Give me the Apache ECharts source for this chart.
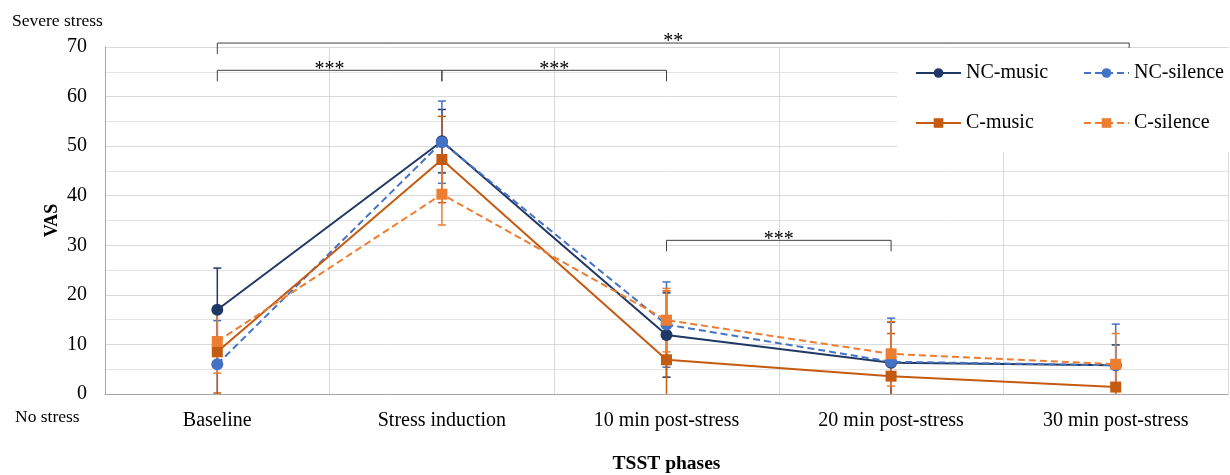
<!DOCTYPE html>
<html><head><meta charset="utf-8">
<script src="https://cdn.jsdelivr.net/npm/echarts@6/dist/echarts.min.js"></script>
<style>html,body{margin:0;padding:0;background:#fff}#c{width:1230px;height:475px}</style>
</head><body><div id="c"></div>
<script>
// ---- data ----
const categories = ['Baseline', 'Stress induction', '10 min post-stress', '20 min post-stress', '30 min post-stress'];
const seriesNames = ['NC-music', 'NC-silence', 'C-music', 'C-silence'];
const ncMusic = [17, 51, 11.9, 6.3, 5.8];
const ncMusicErr = [8.4, 6.4, 8.5, 8.2, 4.1];
const ncSilence = [6, 50.8, 14, 6.5, 5.8];
const ncSilenceErr = [8.8, 8.3, 8.6, 8.8, 8.3];
const cMusic = [8.5, 47.3, 6.9, 3.6, 1.4];
const cMusicErr = [8.3, 8.7, 13.9, 8.6, 4];
const cSilence = [10.6, 40.3, 14.9, 8.1, 6];
const cSilenceErr = [6.4, 6.2, 6.4, 6.5, 6.2];
const yMin = 0, yMax = 70, yStep = 10;
// significance brackets (category positions, value level)
const bracketFrom = [0, 0, 1, 2];
const bracketTo = [4.06, 1, 2, 3];
const bracketLevel = [70.8, 65.3, 65.3, 31.0];
const bracketLabel = ['**', '***', '***', '***'];

const FONT = "'Liberation Serif', 'Times New Roman', serif";
const colors = ['#203864', '#4472C4', '#C55A11', '#ED7D31'];
const means = [ncMusic, ncSilence, cMusic, cSilence];
const errs = [ncMusicErr, ncSilenceErr, cMusicErr, cSilenceErr];
const symbols = ['circle', 'circle', 'rect', 'rect'];
const symbolSizes = [12, 12, 11, 11];
const dashed = [false, true, false, true];

const chart = echarts.init(document.getElementById('c'), null, {renderer: 'canvas'});

const series = [];
seriesNames.forEach((name, i) => {
  series.push({
    type: 'line',
    name: name,
    z: 5 + i,
    data: means[i],
    symbol: symbols[i],
    symbolSize: symbolSizes[i],
    showAllSymbol: true,
    itemStyle: {color: colors[i]},
    lineStyle: {color: colors[i], width: 2, type: dashed[i] ? [7, 4] : 'solid'},
    emphasis: {disabled: true},
    animation: false
  });
  // error bars
  series.push({
    type: 'custom',
    name: name + ' (SD)',
    z: 2,
    clip: true,
    data: means[i].map((m, k) => [k, m, errs[i][k]]),
    renderItem: function (params, api) {
      const x = api.value(0), m = api.value(1), e = api.value(2);
      const top = api.coord([x, m + e]);
      const bot = api.coord([x, m - e]);
      const hw = 4;
      const style = {stroke: colors[i], lineWidth: 1.5};
      return {
        type: 'group',
        children: [
          {type: 'line', shape: {x1: top[0], y1: top[1], x2: bot[0], y2: bot[1]}, style: style},
          {type: 'line', shape: {x1: top[0] - hw, y1: top[1], x2: top[0] + hw, y2: top[1]}, style: style},
          {type: 'line', shape: {x1: bot[0] - hw, y1: bot[1], x2: bot[0] + hw, y2: bot[1]}, style: style}
        ]
      };
    },
    tooltip: {show: false}
  });
});

// brackets
function catX(api, v, lv) {
  const base = Math.floor(v);
  const p = api.coord([base, lv]);
  const bw = api.size([1, 0])[0];
  return [p[0] + (v - base) * bw, p[1]];
}
series.push({
  type: 'custom',
  name: 'brackets',
  z: 20,
  clip: false,
  data: bracketFrom.map((f, k) => [f, bracketTo[k], bracketLevel[k], k]),
  renderItem: function (params, api) {
    const a = api.value(0), b = api.value(1), lv = api.value(2), k = api.value(3);
    const p1 = catX(api, a, lv);
    const p2 = catX(api, b, lv);
    const drop = 11;
    const style = {stroke: '#404040', lineWidth: 1, fill: null};
    return {
      type: 'group',
      children: [
        {type: 'polyline', shape: {points: [[p1[0], p1[1] + drop], [p1[0], p1[1]], [p2[0], p2[1]], [p2[0], p2[1] + drop]]}, style: style},
        {type: 'text', x: (p1[0] + p2[0]) / 2, y: p1[1] - 1,
          style: {text: bracketLabel[k], font: '20px ' + FONT, fill: '#000', align: 'center', verticalAlign: 'middle'}}
      ]
    };
  },
  tooltip: {show: false}
});

const option = {
  animation: false,
  backgroundColor: '#fff',
  grid: {left: 105, right: 2, top: 47, bottom: 81, containLabel: false, outerBoundsMode: 'none'},
  legend: {
    data: seriesNames,
    left: 897, top: 48,
    width: 330,
    orient: 'horizontal',
    backgroundColor: '#fff',
    padding: [11, 1, 15, 18],
    itemWidth: 45, itemHeight: 12, itemGap: 22,
    textStyle: {fontFamily: FONT, fontSize: 20, color: '#000', width: 95, lineHeight: 28},
    selectedMode: false,
    z: 30
  },
  xAxis: {
    type: 'category',
    data: categories,
    axisTick: {show: false},
    axisLine: {lineStyle: {color: '#a6a6a6', width: 1}},
    axisLabel: {fontFamily: FONT, fontSize: 20, color: '#000', margin: 17},
    splitLine: {show: true, lineStyle: {color: '#d9d9d9', width: 1}},
    name: 'TSST phases',
    nameLocation: 'middle',
    nameGap: 60,
    nameTextStyle: {fontFamily: FONT, fontSize: 19.5, fontWeight: 'bold', color: '#000'}
  },
  yAxis: {
    type: 'value',
    min: yMin, max: yMax, interval: yStep,
    axisLine: {show: true, lineStyle: {color: '#a6a6a6', width: 1}},
    axisTick: {show: false},
    axisLabel: {fontFamily: FONT, fontSize: 20, color: '#000', margin: 18},
    splitLine: {show: true, lineStyle: {color: '#d9d9d9', width: 1}},
    minorTick: {show: false, splitNumber: 2},
    minorSplitLine: {show: true, lineStyle: {color: '#e4e4e4', width: 1}},
    name: 'VAS',
    nameLocation: 'middle',
    nameGap: 44,
    nameMoveOverlap: false,
    nameTextStyle: {fontFamily: FONT, fontSize: 18, fontWeight: 'bold', color: '#000'}
  },
  graphic: [
    {type: 'text', left: 12, top: 12, style: {text: 'Severe stress', font: '17.5px ' + FONT, fill: '#000'}},
    {type: 'text', left: 15, top: 408, style: {text: 'No stress', font: '17.5px ' + FONT, fill: '#000'}}
  ],
  series: series
};
chart.setOption(option);
</script>
</body></html>
